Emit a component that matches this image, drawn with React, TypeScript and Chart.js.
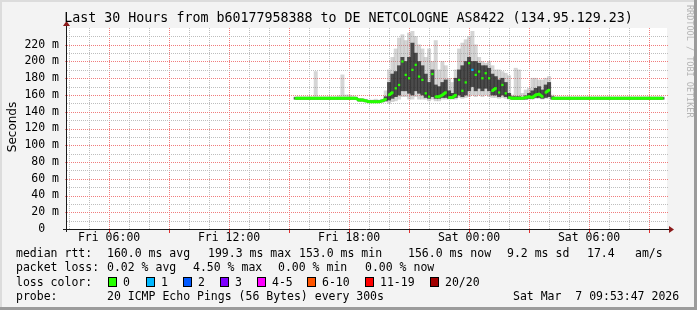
import { useEffect, useRef } from "react";
import { Chart, registerables } from "chart.js";

Chart.register(...registerables);

// ---------- data ----------
const TITLE = "Last 30 Hours from b60177958388 to DE NETCOLOGNE AS8422 (134.95.129.23)";
const START_HOUR = 3 + 53 / 60 + 47 / 3600; // Fri 03:53:47
const SPAN_HOURS = 30;
const FIRST_SAMPLE_HOUR = 15 + 20 / 60; // Fri 15:20
const STEP_HOURS = 10 / 60;
const Y_MAX = 240;
const DAYS = ["Fri", "Sat"];

// median RTT in ms, one value per 10-minute sample
const medianRtt = [
  156, 156, 156, 156, 156, 156, 156, 156, 156, 156, 156, 156, 156, 156, 156, 156, 156, 156, 156,
  154, 154, 153, 152, 152, 152, 152, 153,
  155, 160, 163, 168, 172, 200, 184, 180, 190, 196, 182, 178, 162, 158, 185, 158, 158, 160, 163,
  157, 157, 160, 178, 165, 175, 198, 190, 184, 188, 180, 186, 180, 165, 168, 163, 172, 162, 157, 156,
  156, 156, 156, 157, 158, 157, 160, 161, 158, 163, 166, 156,
  156, 156, 156, 156, 156, 156, 156, 156, 156, 156, 156, 156, 156, 156, 156, 156, 156,
  156, 156, 156, 156, 156, 156, 156, 156, 156, 156, 156, 156, 156, 156, 156, 156,
];
// lightest smoke: min / max ping of each sample
const smokeMin = [
  155, 155, 155, 155, 155, 155, 155, 155, 155, 155, 155, 155, 155, 155, 155, 155, 155, 155, 155,
  152, 152, 151, 151, 151, 151, 151, 151,
  152, 150, 152, 153, 155, 158, 158, 155, 155, 158, 155, 155, 155, 153, 155, 153, 153, 155, 155,
  155, 155, 155, 157, 156, 157, 158, 160, 158, 160, 158, 160, 158, 157, 157, 156, 157, 156, 155, 155,
  155, 155, 155, 155, 155, 155, 156, 156, 155, 156, 156, 155,
  155, 155, 155, 155, 155, 155, 155, 155, 155, 155, 155, 155, 155, 155, 155, 155, 155,
  155, 155, 155, 155, 155, 155, 155, 155, 155, 155, 155, 155, 155, 155, 155, 155,
];
const smokeMax = [
  158, 158, 158, 158, 158, 158, 188, 158, 158, 158, 158, 158, 158, 159, 184, 160, 160, 159, 158,
  156, 156, 155, 154, 154, 155, 154, 155,
  165, 190, 205, 215, 228, 232, 225, 234, 236, 230, 220, 215, 205, 215, 200, 225, 190, 200, 195,
  180, 175, 190, 215, 222, 226, 230, 236, 220, 205, 200, 198, 200, 195, 190, 190, 188, 186, 183, 160,
  192, 190, 162, 166, 168, 180, 180, 178, 178, 180, 182, 160,
  158, 158, 158, 158, 158, 158, 158, 158, 158, 158, 158, 158, 158, 158, 158, 158, 158,
  158, 158, 158, 158, 158, 158, 158, 158, 158, 158, 158, 158, 158, 158, 158, 158,
];
// dark smoke core: lower / upper quartile of each sample
const smokeLow = [
  155, 155, 155, 155, 155, 155, 155, 155, 155, 155, 155, 155, 155, 155, 155, 155, 155, 155, 155,
  153, 153, 152, 151, 151, 151, 151, 152,
  153, 154, 156, 158, 160, 165, 165, 162, 160, 165, 162, 160, 157, 156, 158, 156, 156, 157, 157,
  156, 156, 157, 160, 158, 160, 165, 170, 165, 168, 165, 168, 165, 160, 160, 158, 160, 158, 156, 155,
  155, 155, 155, 155, 156, 156, 157, 157, 156, 157, 158, 155,
  155, 155, 155, 155, 155, 155, 155, 155, 155, 155, 155, 155, 155, 155, 155, 155, 155,
  155, 155, 155, 155, 155, 155, 155, 155, 155, 155, 155, 155, 155, 155, 155, 155,
];
const smokeHigh = [
  157, 157, 157, 157, 157, 157, 157, 157, 157, 157, 157, 157, 157, 157, 157, 157, 157, 157, 157,
  155, 155, 154, 153, 153, 153, 153, 154,
  158, 175, 185, 188, 195, 205, 200, 205, 222, 210, 200, 195, 185, 175, 190, 172, 170, 175, 178,
  165, 162, 180, 190, 195, 200, 205, 200, 200, 198, 195, 195, 192, 185, 182, 178, 180, 175, 162, 158,
  158, 158, 157, 159, 162, 165, 168, 170, 166, 172, 175, 158,
  157, 157, 157, 157, 157, 157, 157, 157, 157, 157, 157, 157, 157, 157, 157, 157, 157,
  157, 157, 157, 157, 157, 157, 157, 157, 157, 157, 157, 157, 157, 157, 157, 157,
];
// samples that lost 1 of 20 pings
const oneLossSamples = [53];

const lossLegend = ["0", "1", "2", "3", "4-5", "6-10", "11-19", "20/20"];
const lossColors = ["#26ff00", "#00b8ff", "#0059ff", "#7e00ff", "#ff00ff", "#ff5500", "#ff0000", "#a10000"];

const rttLegend = ["median rtt:", "160.0 ms avg", "199.3 ms max", "153.0 ms min", "156.0 ms now", "9.2 ms sd", "17.4", "am/s"];
const lossStats = ["packet loss:", "0.02 % avg", "4.50 % max", "0.00 % min", "0.00 % now"];
const probeText = ["probe:", "20 ICMP Echo Pings (56 Bytes) every 300s", "Sat Mar  7 09:53:47 2026"];

// ---------- styling ----------
const MONO = "'DejaVu Sans Mono', monospace";
const RED_GRID = "rgb(240, 125, 125)";
const GREY_GRID = "rgb(190, 190, 190)";
const CLEAR = "rgba(0,0,0,0)";

const rrdFrame = {
  id: "rrdFrame",
  beforeDraw(chart: any) {
    const { ctx, chartArea: a, width, height } = chart;
    ctx.save();
    ctx.fillStyle = "#f3f3f3";
    ctx.fillRect(0, 0, width, height);
    ctx.fillStyle = "#dcdcdc";
    ctx.fillRect(0, 0, width, 2);
    ctx.fillRect(0, 0, 2, height);
    ctx.fillStyle = "#9b9b9b";
    ctx.fillRect(width - 3, 0, 3, height);
    ctx.fillRect(0, height - 3, width, 3);
    ctx.fillStyle = "#ffffff";
    ctx.fillRect(a.left, a.top, a.right - a.left, a.bottom - a.top);
    ctx.restore();
  },
  beforeDatasetsDraw(chart: any) {
    // dotted RRD-style grid, placed by the chart's own scales
    const { ctx, chartArea: a } = chart;
    const xs = chart.scales.x;
    const ys = chart.scales.y;
    ctx.save();
    const dot = (x0: number, y0: number, x1: number, y1: number, color: string) => {
      ctx.fillStyle = color;
      if (x0 === x1) {
        for (let y = Math.ceil(y0); y < y1; y += 2) ctx.fillRect(x0, y, 1, 1);
      } else {
        for (let x = Math.ceil(x0); x < x1; x += 2) ctx.fillRect(x, y0, 1, 1);
      }
    };
    xs.ticks.forEach((t: any) => {
      const px = Math.round(xs.getPixelForValue(t.value));
      dot(px, a.top, px, a.bottom, Math.round(t.value) % 3 === 0 ? RED_GRID : GREY_GRID);
    });
    ys.ticks.forEach((t: any) => {
      const v = Math.round(t.value);
      if (v === 0 || v >= Y_MAX) return;
      const py = Math.round(ys.getPixelForValue(v));
      const major = v % 20 === 0;
      dot(major ? a.left - 2 : a.left, py, a.right + 1, py, major ? RED_GRID : GREY_GRID);
    });
    ctx.fillStyle = "#e03030";
    xs.ticks.forEach((t: any) => {
      if (Math.round(t.value) % 3 !== 0) return;
      const px = Math.round(xs.getPixelForValue(t.value));
      ctx.fillRect(px, a.bottom + 1, 1, 3);
    });
    ctx.restore();
  },
  afterDraw(chart: any) {
    const { ctx, chartArea: a } = chart;
    ctx.save();
    // axes
    ctx.strokeStyle = "#1a1a1a";
    ctx.lineWidth = 1;
    ctx.beginPath();
    ctx.moveTo(a.left - 4, a.bottom + 0.5);
    ctx.lineTo(a.right + 3, a.bottom + 0.5);
    ctx.moveTo(a.left - 0.5, a.bottom + 3);
    ctx.lineTo(a.left - 0.5, a.top - 3);
    ctx.stroke();
    ctx.fillStyle = "#8b1a1a";
    ctx.beginPath();
    ctx.moveTo(a.right + 2, a.bottom - 3);
    ctx.lineTo(a.right + 7, a.bottom + 0.5);
    ctx.lineTo(a.right + 2, a.bottom + 4);
    ctx.closePath();
    ctx.fill();
    ctx.beginPath();
    ctx.moveTo(a.left - 4, a.top - 2);
    ctx.lineTo(a.left - 0.5, a.top - 7);
    ctx.lineTo(a.left + 3, a.top - 2);
    ctx.closePath();
    ctx.fill();

    // title
    ctx.fillStyle = "#000";
    ctx.font = `13.3px ${MONO}`;
    ctx.textAlign = "center";
    ctx.textBaseline = "middle";
    ctx.fillText(TITLE, chart.width / 2, 19);

    // y axis title
    ctx.save();
    ctx.translate(13, 127);
    ctx.rotate(-Math.PI / 2);
    ctx.font = "12px 'DejaVu Sans', sans-serif";
    ctx.fillText("Seconds", 0, 0);
    ctx.restore();

    // watermark
    ctx.save();
    ctx.translate(689, 5);
    ctx.rotate(Math.PI / 2);
    ctx.font = `8.5px ${MONO}`;
    ctx.fillStyle = "#b4b4b4";
    ctx.textAlign = "left";
    ctx.fillText("RRDTOOL / TOBI OETIKER", 0, 0);
    ctx.restore();

    // legend
    ctx.font = `11.5px ${MONO}`;
    ctx.textAlign = "left";
    ctx.fillStyle = "#000";
    const rttX = [16, 107, 208, 299, 408, 507, 587, 635];
    rttLegend.forEach((t, i) => ctx.fillText(t, rttX[i], 254));
    const lossX = [16, 107, 193, 278, 365];
    lossStats.forEach((t, i) => ctx.fillText(t, lossX[i], 268.5));
    ctx.fillText("loss color:", 16, 283);
    const boxX = [108, 146, 183, 220, 257, 307, 365, 430];
    lossLegend.forEach((t, i) => {
      const bx = boxX[i];
      ctx.fillStyle = lossColors[i];
      ctx.fillRect(bx, 277, 9, 10);
      ctx.strokeStyle = "#000";
      ctx.strokeRect(bx + 0.5, 277.5, 8, 9);
      ctx.fillStyle = "#000";
      ctx.fillText(t, bx + 15, 283);
    });
    const probeX = [16, 107, 513];
    probeText.forEach((t, i) => ctx.fillText(t, probeX[i], 297.5));
    ctx.restore();
  },
};

export default function App() {
  const ref = useRef<HTMLCanvasElement | null>(null);

  useEffect(() => {
    document.body.style.margin = "0";
    const canvas = ref.current;
    if (!canvas) return;

    const hours = medianRtt.map((_, i) => FIRST_SAMPLE_HOUR + i * STEP_HOURS);
    const lightBars = hours.map((h, i) => ({ x: h, y: [smokeMin[i], smokeMax[i]] }));
    const darkBars = hours.map((h, i) => ({ x: h, y: [smokeLow[i], smokeHigh[i]] }));
    const medianPts = hours.map((h, i) => ({ x: h, y: medianRtt[i] }));
    const endHour = START_HOUR + SPAN_HOURS;

    const chart = new Chart(canvas, {
      type: "line",
      data: {
        datasets: [
          {
            type: "line",
            label: "median",
            data: medianPts,
            order: 0,
            borderColor: "#26ff00",
            borderWidth: 3,
            pointStyle: "rect",
            pointRadius: 1.6,
            pointBorderWidth: 0,
            pointBackgroundColor: (c: any) => (oneLossSamples.includes(c.dataIndex) ? "#00b8ff" : "#26ff00"),
            tension: 0,
            segment: {
              borderColor: (c: any) =>
                Math.abs(c.p0.parsed.y - c.p1.parsed.y) > 3 ? CLEAR : "#26ff00",
            },
          } as any,
          {
            type: "bar",
            label: "core",
            data: darkBars,
            order: 1,
            backgroundColor: "rgba(40,40,40,0.8)",
            borderWidth: 0,
            grouped: false,
            barPercentage: 1,
            categoryPercentage: 1,
          } as any,
          {
            type: "bar",
            label: "smoke",
            data: lightBars,
            order: 2,
            backgroundColor: "rgba(150,150,150,0.4)",
            borderWidth: 0,
            grouped: false,
            barPercentage: 1,
            categoryPercentage: 1,
          } as any,
        ],
      },
      options: {
        responsive: false,
        animation: false,
        devicePixelRatio: 1,
        layout: { padding: { top: 28, right: 30, left: 0, bottom: 0 } },
        plugins: { legend: { display: false }, tooltip: { enabled: false } },
        scales: {
          x: {
            type: "linear",
            min: START_HOUR,
            max: endHour,
            offset: false,
            afterFit: (s: any) => {
              s.height = 81;
            },
            afterBuildTicks: (s: any) => {
              const t = [];
              for (let h = Math.ceil(START_HOUR); h <= Math.floor(endHour); h++) t.push({ value: h });
              s.ticks = t;
            },
            grid: { offset: false, color: CLEAR, tickColor: CLEAR, tickLength: 3 },
            border: { display: false },
            ticks: {
              autoSkip: false,
              maxRotation: 0,
              padding: 0,
              color: "#000",
              font: { family: MONO, size: 11.5, lineHeight: 1.1 },
              callback: (v: any) => {
                const h = Number(v);
                if (h % 6 !== 0) return "";
                const day = DAYS[Math.floor(h / 24)];
                return `${day} ${String(h % 24).padStart(2, "0")}:00`;
              },
            },
          },
          y: {
            type: "linear",
            min: 0,
            max: Y_MAX,
            afterFit: (s: any) => {
              s.width = 67;
            },
            afterBuildTicks: (s: any) => {
              const t = [];
              for (let v = 0; v <= Y_MAX; v += 10) t.push({ value: v });
              s.ticks = t;
            },
            grid: { color: CLEAR, tickColor: CLEAR, tickLength: 3 },
            border: { display: false },
            ticks: {
              autoSkip: false,
              padding: 5,
              color: "#000",
              font: { family: MONO, size: 11.5 },
              callback: (v: any) => {
                const n = Number(v);
                if (n % 20 !== 0 || n >= Y_MAX) return "";
                return n === 0 ? "0  " : `${n} m`;
              },
            },
          },
        },
      },
      plugins: [rrdFrame],
    } as any);

    return () => chart.destroy();
  }, []);

  return <canvas ref={ref} width={697} height={310} style={{ display: "block" }} />;
}
